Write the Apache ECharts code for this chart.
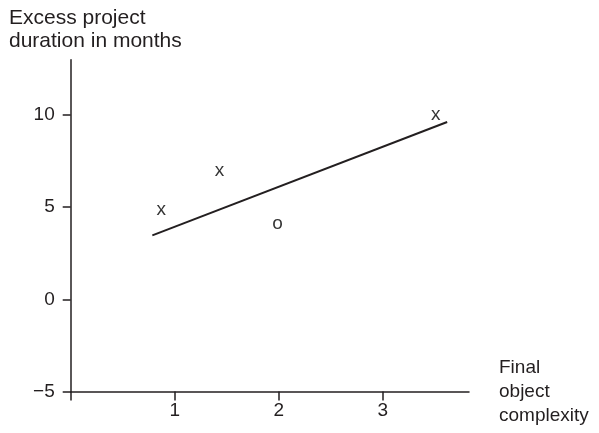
<!DOCTYPE html>
<html>
<head>
<meta charset="utf-8">
<script src="https://cdn.jsdelivr.net/npm/echarts@6/dist/echarts.min.js"></script>
<style>
html,body{margin:0;padding:0;background:#fff;}
#chart{width:599px;height:433px;}
</style>
</head>
<body>
<div id="chart"></div>
<script>
// Data
const pointX = [0.87, 1.43, 1.99, 3.51];
const pointY = [4.77, 6.85, 3.98, 9.89];
const pointMarks = ['x', 'x', 'o', 'x'];
const lineX = [0.785, 3.62];
const lineY = [3.47, 9.62];
const yTicks = [-5, 0, 5, 10];
const xTicks = [0, 1, 2, 3];
const xLabels = [1, 2, 3];
const yTitle = 'Excess project\nduration in months';
const xTitle = 'Final\nobject\ncomplexity';

const ink = '#231f20';
const font = 'Liberation Sans, Arial, Helvetica, sans-serif';
const fmt = v => (v < 0 ? '\u2212' + (-v) : String(v));

const chart = echarts.init(document.getElementById('chart'), null, {renderer: 'canvas'});
chart.setOption({
  animation: false,
  backgroundColor: '#fff',
  title: {
    text: yTitle,
    left: 4,
    top: 2,
    textStyle: {color: ink, fontFamily: font, fontSize: 21, fontWeight: 'normal', lineHeight: 23}
  },
  grid: {left: 70.7, right: 130, top: 59.7, bottom: 41.5},
  xAxis: {
    type: 'value',
    min: 0,
    max: 3.83,
    name: xTitle,
    nameLocation: 'end',
    nameGap: 30,
    nameTextStyle: {color: ink, fontFamily: font, fontSize: 19, align: 'left', verticalAlign: 'middle', lineHeight: 24},
    splitLine: {show: false},
    axisLine: {onZero: false, lineStyle: {color: ink, width: 1.5}},
    axisTick: {show: true, length: 9, lineStyle: {color: ink, width: 1.5}, customValues: xTicks},
    axisLabel: {color: ink, fontFamily: font, fontSize: 19, margin: 10, customValues: xLabels, formatter: fmt}
  },
  yAxis: {
    type: 'value',
    min: -5,
    max: 13,
    splitLine: {show: false},
    axisLine: {onZero: false, lineStyle: {color: ink, width: 1.5}},
    axisTick: {show: true, length: 8, lineStyle: {color: ink, width: 1.5}, customValues: yTicks},
    axisLabel: {color: ink, fontFamily: font, fontSize: 19, margin: 16, customValues: yTicks, formatter: fmt}
  },
  series: [
    {
      type: 'line',
      data: lineX.map((x, i) => [x, lineY[i]]),
      symbol: 'none',
      lineStyle: {color: ink, width: 2},
      silent: true
    },
    {
      type: 'scatter',
      data: pointX.map((x, i) => ({value: [x, pointY[i]]})),
      symbolSize: 1,
      itemStyle: {color: 'rgba(0,0,0,0)'},
      label: {
        show: true,
        position: 'inside',
        offset: [0, -2],
        formatter: p => pointMarks[p.dataIndex],
        color: '#000',
        fontFamily: font,
        fontSize: 19
      }
    }
  ]
});
</script>
</body>
</html>
